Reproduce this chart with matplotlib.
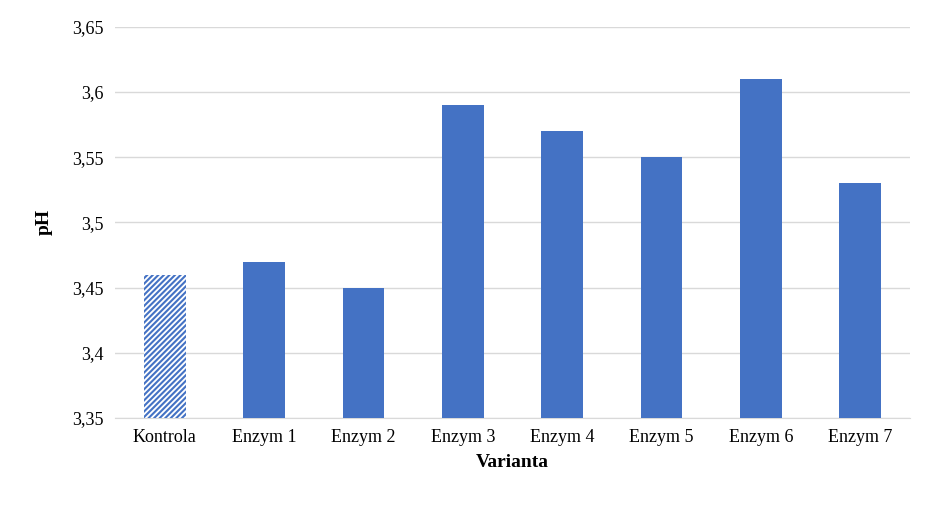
import matplotlib
matplotlib.use("Agg")
import matplotlib.pyplot as plt

categories = ["Kontrola", "Enzym 1", "Enzym 2", "Enzym 3", "Enzym 4", "Enzym 5", "Enzym 6", "Enzym 7"]
values = [3.46, 3.47, 3.45, 3.59, 3.57, 3.55, 3.61, 3.53]
yticks = [3.35, 3.40, 3.45, 3.50, 3.55, 3.60, 3.65]
ytick_labels = ["3,35", "3,4", "3,45", "3,5", "3,55", "3,6", "3,65"]

plt.rcParams["font.family"] = "Liberation Serif"
plt.rcParams["hatch.linewidth"] = 1.5
fig = plt.figure(figsize=(9.36, 5.16), dpi=100)
ax = fig.add_axes([0.123, 0.19, 0.849, 0.758])
color = "#4472C4"
x = range(len(categories))
bars = ax.bar(x, [v - 3.35 for v in values], bottom=3.35, width=0.42, color=color, zorder=3)
bars[0].set_facecolor("white")
bars[0].set_edgecolor(color)
bars[0].set_hatch("//////")
bars[0].set_linewidth(0)

ax.set_ylim(3.35, 3.65)
ax.set_xlim(-0.5, len(categories) - 0.5)
ax.set_yticks(yticks)
ax.set_yticklabels(ytick_labels, fontsize=13)
ax.set_xticks(list(x))
ax.set_xticklabels(categories, fontsize=13)
ax.yaxis.grid(True, color="#D9D9D9", linewidth=1, zorder=0)
ax.tick_params(length=0, pad=8)
for s in ["top", "right", "left"]:
    ax.spines[s].set_visible(False)
ax.spines["bottom"].set_color("#D9D9D9")
ax.set_ylabel("pH", fontsize=14, fontweight="bold", labelpad=14)
ax.set_xlabel("Varianta", fontsize=14, fontweight="bold", labelpad=6)
fig.savefig("out.png", dpi=100)
